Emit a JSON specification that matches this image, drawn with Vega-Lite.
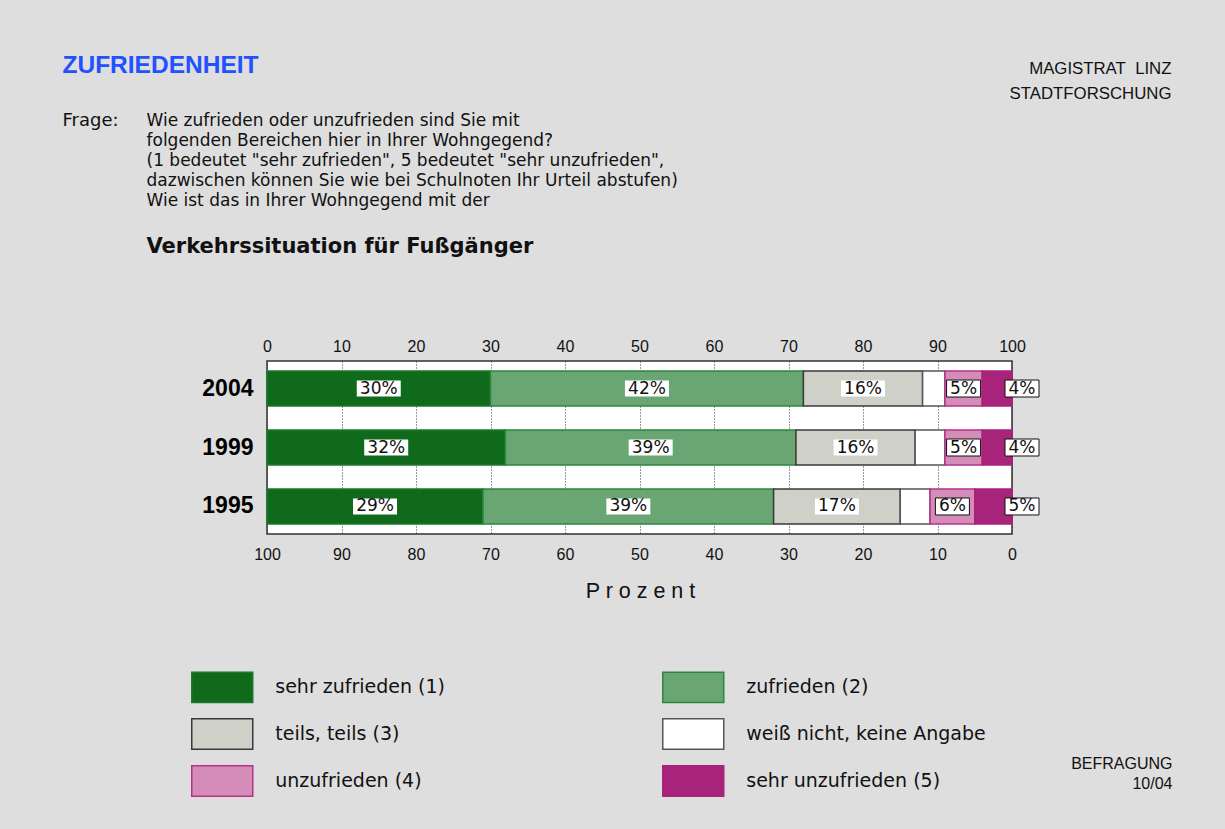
{
  "$schema": "https://vega.github.io/schema/vega-lite/v6.json",
  "width": 745,
  "height": 173,
  "autosize": {"type": "none"},
  "padding": {"left": 267, "top": 361, "right": 213, "bottom": 295},
  "background": "#dedede",
  "config": {
    "font": "Liberation Sans",
    "view": {"fill": "white", "stroke": "#333333", "strokeWidth": 1.5},
    "axis": {"labelColor": "#111111", "titleColor": "#111111", "labelFont": "Liberation Sans", "titleFont": "Liberation Sans"}
  },
  "data": {
    "values": [
      {"year": "2004", "cat": "sehr zufrieden (1)", "rank": 1, "value": 30},
      {"year": "2004", "cat": "zufrieden (2)", "rank": 2, "value": 42},
      {"year": "2004", "cat": "teils, teils (3)", "rank": 3, "value": 16},
      {"year": "2004", "cat": "weiß nicht, keine Angabe", "rank": 4, "value": 3},
      {"year": "2004", "cat": "unzufrieden (4)", "rank": 5, "value": 5},
      {"year": "2004", "cat": "sehr unzufrieden (5)", "rank": 6, "value": 4},
      {"year": "1999", "cat": "sehr zufrieden (1)", "rank": 1, "value": 32},
      {"year": "1999", "cat": "zufrieden (2)", "rank": 2, "value": 39},
      {"year": "1999", "cat": "teils, teils (3)", "rank": 3, "value": 16},
      {"year": "1999", "cat": "weiß nicht, keine Angabe", "rank": 4, "value": 4},
      {"year": "1999", "cat": "unzufrieden (4)", "rank": 5, "value": 5},
      {"year": "1999", "cat": "sehr unzufrieden (5)", "rank": 6, "value": 4},
      {"year": "1995", "cat": "sehr zufrieden (1)", "rank": 1, "value": 29},
      {"year": "1995", "cat": "zufrieden (2)", "rank": 2, "value": 39},
      {"year": "1995", "cat": "teils, teils (3)", "rank": 3, "value": 17},
      {"year": "1995", "cat": "weiß nicht, keine Angabe", "rank": 4, "value": 4},
      {"year": "1995", "cat": "unzufrieden (4)", "rank": 5, "value": 6},
      {"year": "1995", "cat": "sehr unzufrieden (5)", "rank": 6, "value": 5}
    ]
  },
  "transform": [
    {"stack": "value", "groupby": ["year"], "sort": [{"field": "rank", "order": "ascending"}], "as": ["x0", "x1"]},
    {"calculate": "(datum.x0 + datum.x1) / 2", "as": "mid"},
    {"calculate": "datum.value + '%'", "as": "label"}
  ],
  "layer": [
    {
      "mark": {"type": "bar", "strokeWidth": 1.5, "fillOpacity": 1},
      "encoding": {
        "x": {
          "field": "x0", "type": "quantitative",
          "scale": {"domain": [0, 100], "nice": false},
          "axis": {
            "orient": "top", "values": [0, 10, 20, 30, 40, 50, 60, 70, 80, 90, 100], "labelFlush": false,
            "labelFontSize": 16, "labelPadding": 7, "ticks": false, "tickSize": 0, "domain": false,
            "grid": true, "gridColor": "#333333", "gridDash": [1, 2], "gridWidth": 1,
            "title": "ZUFRIEDENHEIT", "titleX": -205, "titleY": -289, "titleAlign": "left",
            "titleBaseline": "alphabetic", "titleAngle": 0, "titleFontSize": 24.5, "titleFontWeight": "bold",
            "titleColor": "#2251ff"
          }
        },
        "x2": {"field": "x1"},
        "y": {
          "field": "year", "type": "nominal", "sort": ["2004", "1999", "1995"],
          "scale": {"paddingInner": 0.407, "paddingOuter": 0.17},
          "axis": {
            "orient": "left", "labelFontSize": 23, "labelFontWeight": "bold", "labelPadding": 14,
            "labelColor": "#000000", "ticks": false, "domain": false, "grid": false,
            "title": "Frage:", "titleAngle": 0, "titleX": -205, "titleY": -236, "titleAlign": "left",
            "titleBaseline": "alphabetic", "titleFont": "DejaVu Sans", "titleFontSize": 18, "titleFontWeight": "normal"
          }
        },
        "fill": {
          "field": "cat", "type": "nominal",
          "scale": {
            "domain": ["sehr zufrieden (1)", "zufrieden (2)", "teils, teils (3)", "weiß nicht, keine Angabe", "unzufrieden (4)", "sehr unzufrieden (5)"],
            "range": ["#0f6a1c", "#6aa674", "#cfd0c8", "#ffffff", "#d58cb9", "#a8237a"]
          },
          "legend": {
            "orient": "none", "legendX": -60.75, "legendY": 310, "columns": 2, "columnPadding": 214,
            "rowPadding": 9, "title": null, "symbolType": "M-2,-1L2,-1L2,1L-2,1Z",
            "values": ["sehr zufrieden (1)", "teils, teils (3)", "unzufrieden (4)", "zufrieden (2)", "weiß nicht, keine Angabe", "sehr unzufrieden (5)"],
            "symbolSize": 930, "symbolStrokeWidth": 1.5, "labelFont": "DejaVu Sans", "labelFontSize": 19, "labelOffset": 37,
            "labelLimit": 400, "labelColor": "#111111", "padding": 0, "symbolOpacity": 1
          }
        },
        "stroke": {
          "field": "cat", "type": "nominal",
          "scale": {
            "domain": ["sehr zufrieden (1)", "zufrieden (2)", "teils, teils (3)", "weiß nicht, keine Angabe", "unzufrieden (4)", "sehr unzufrieden (5)"],
            "range": ["#1d7a2b", "#2a8a3a", "#3a3a3a", "#555555", "#b5328a", "#a8237a"]
          },
          "legend": {
            "orient": "none", "legendX": -60.75, "legendY": 310, "columns": 2, "columnPadding": 214,
            "rowPadding": 9, "title": null, "symbolType": "M-2,-1L2,-1L2,1L-2,1Z",
            "values": ["sehr zufrieden (1)", "teils, teils (3)", "unzufrieden (4)", "zufrieden (2)", "weiß nicht, keine Angabe", "sehr unzufrieden (5)"],
            "symbolSize": 930, "symbolStrokeWidth": 1.5, "labelFont": "DejaVu Sans", "labelFontSize": 19, "labelOffset": 37,
            "labelLimit": 400, "labelColor": "#111111", "padding": 0, "symbolOpacity": 1
          }
        }
      }
    },
    {
      "transform": [{"filter": "datum.value >= 10"}],
      "mark": {"type": "point", "shape": "M-1,-0.364L1,-0.364L1,0.364L-1,0.364Z", "size": 1936, "filled": true, "fill": "#ffffff", "opacity": 1, "strokeWidth": 0},
      "encoding": {
        "x": {
          "field": "mid", "type": "quantitative",
          "axis": {
            "orient": "bottom", "values": [0, 10, 20, 30, 40, 50, 60, 70, 80, 90, 100], "labelFlush": false,
            "labelExpr": "100 - datum.value", "labelFontSize": 16, "labelPadding": 12,
            "ticks": false, "tickSize": 0, "domain": false, "grid": false,
            "title": "P r o z e n t", "titleX": 373, "titleY": 63, "titleAlign": "center",
            "titleBaseline": "alphabetic", "titleFontSize": 21.5, "titleFontWeight": "normal"
          }
        },
        "y": {
          "field": "year", "type": "nominal", "sort": ["2004", "1999", "1995"],
          "axis": {
            "orient": "right", "labels": false, "ticks": false, "domain": false, "grid": false,
            "title": ["MAGISTRAT\u00a0\u00a0LINZ", "STADTFORSCHUNG"], "titleAngle": 0, "titleX": 159, "titleY": -288,
            "titleAlign": "right", "titleBaseline": "alphabetic", "titleFontSize": 16.8,
            "titleFontWeight": "normal", "titleLineHeight": 25.6
          }
        }
      }
    },
    {
      "transform": [{"filter": "datum.value >= 10"}],
      "mark": {"type": "text", "font": "DejaVu Sans", "fontSize": 17, "color": "#111111", "baseline": "middle", "align": "center"},
      "encoding": {
        "x": {
          "field": "mid", "type": "quantitative",
          "axis": {
            "orient": "top", "labels": false, "ticks": false, "domain": false, "grid": false,
            "title": [
              "Wie zufrieden oder unzufrieden sind Sie mit",
              "folgenden Bereichen hier in Ihrer Wohngegend?",
              "(1 bedeutet \"sehr zufrieden\", 5 bedeutet \"sehr unzufrieden\",",
              "dazwischen können Sie wie bei Schulnoten Ihr Urteil abstufen)",
              "Wie ist das in Ihrer Wohngegend mit der"
            ],
            "titleX": -121, "titleY": -236, "titleAlign": "left", "titleBaseline": "alphabetic",
            "titleAngle": 0, "titleFont": "DejaVu Sans", "titleFontSize": 17, "titleFontWeight": "normal", "titleLineHeight": 20
          }
        },
        "y": {
          "field": "year", "type": "nominal", "sort": ["2004", "1999", "1995"],
          "axis": {
            "orient": "left", "labels": false, "ticks": false, "domain": false, "grid": false,
            "title": "Verkehrssituation für Fußgänger", "titleAngle": 0, "titleX": -121, "titleY": -109,
            "titleAlign": "left", "titleBaseline": "alphabetic", "titleFont": "DejaVu Sans", "titleFontSize": 21, "titleFontWeight": "bold"
          }
        },
        "text": {"field": "label"}
      }
    },
    {
      "transform": [{"filter": "datum.rank == 5"}],
      "mark": {"type": "point", "shape": "M-1,-0.5L1,-0.5L1,0.5L-1,0.5Z", "size": 1156, "filled": true, "fill": "#ffffff", "stroke": "#111111", "strokeWidth": 1, "opacity": 1},
      "encoding": {
        "x": {"field": "mid", "type": "quantitative", "axis": null},
        "y": {
          "field": "year", "type": "nominal", "sort": ["2004", "1999", "1995"],
          "axis": {
            "orient": "right", "labels": false, "ticks": false, "domain": false, "grid": false,
            "title": ["BEFRAGUNG", "10/04"], "titleAngle": 0, "titleX": 160, "titleY": 407,
            "titleAlign": "right", "titleBaseline": "alphabetic", "titleFontSize": 16,
            "titleFontWeight": "normal", "titleLineHeight": 20
          }
        }
      }
    },
    {
      "transform": [{"filter": "datum.rank == 5"}],
      "mark": {"type": "text", "font": "DejaVu Sans", "fontSize": 17, "color": "#111111", "baseline": "middle", "align": "center"},
      "encoding": {
        "x": {"field": "mid", "type": "quantitative", "axis": null},
        "y": {"field": "year", "type": "nominal", "sort": ["2004", "1999", "1995"], "axis": null},
        "text": {"field": "label"}
      }
    },
    {
      "transform": [{"filter": "datum.rank == 6"}],
      "mark": {"type": "point", "shape": "M-1,-0.5L1,-0.5L1,0.5L-1,0.5Z", "size": 1156, "filled": true, "fill": "#ffffff", "stroke": "#111111", "strokeWidth": 1, "opacity": 1},
      "encoding": {
        "x": {"field": "x1", "type": "quantitative", "axis": null},
        "xOffset": {"value": 10},
        "y": {"field": "year", "type": "nominal", "sort": ["2004", "1999", "1995"], "axis": null}
      }
    },
    {
      "transform": [{"filter": "datum.rank == 6"}],
      "mark": {"type": "text", "font": "DejaVu Sans", "fontSize": 17, "color": "#111111", "baseline": "middle", "align": "center", "dx": 10},
      "encoding": {
        "x": {"field": "x1", "type": "quantitative", "axis": null},
        "y": {"field": "year", "type": "nominal", "sort": ["2004", "1999", "1995"], "axis": null},
        "text": {"field": "label"}
      }
    }
  ],
  "resolve": {"axis": {"x": "independent", "y": "independent"}}
}
